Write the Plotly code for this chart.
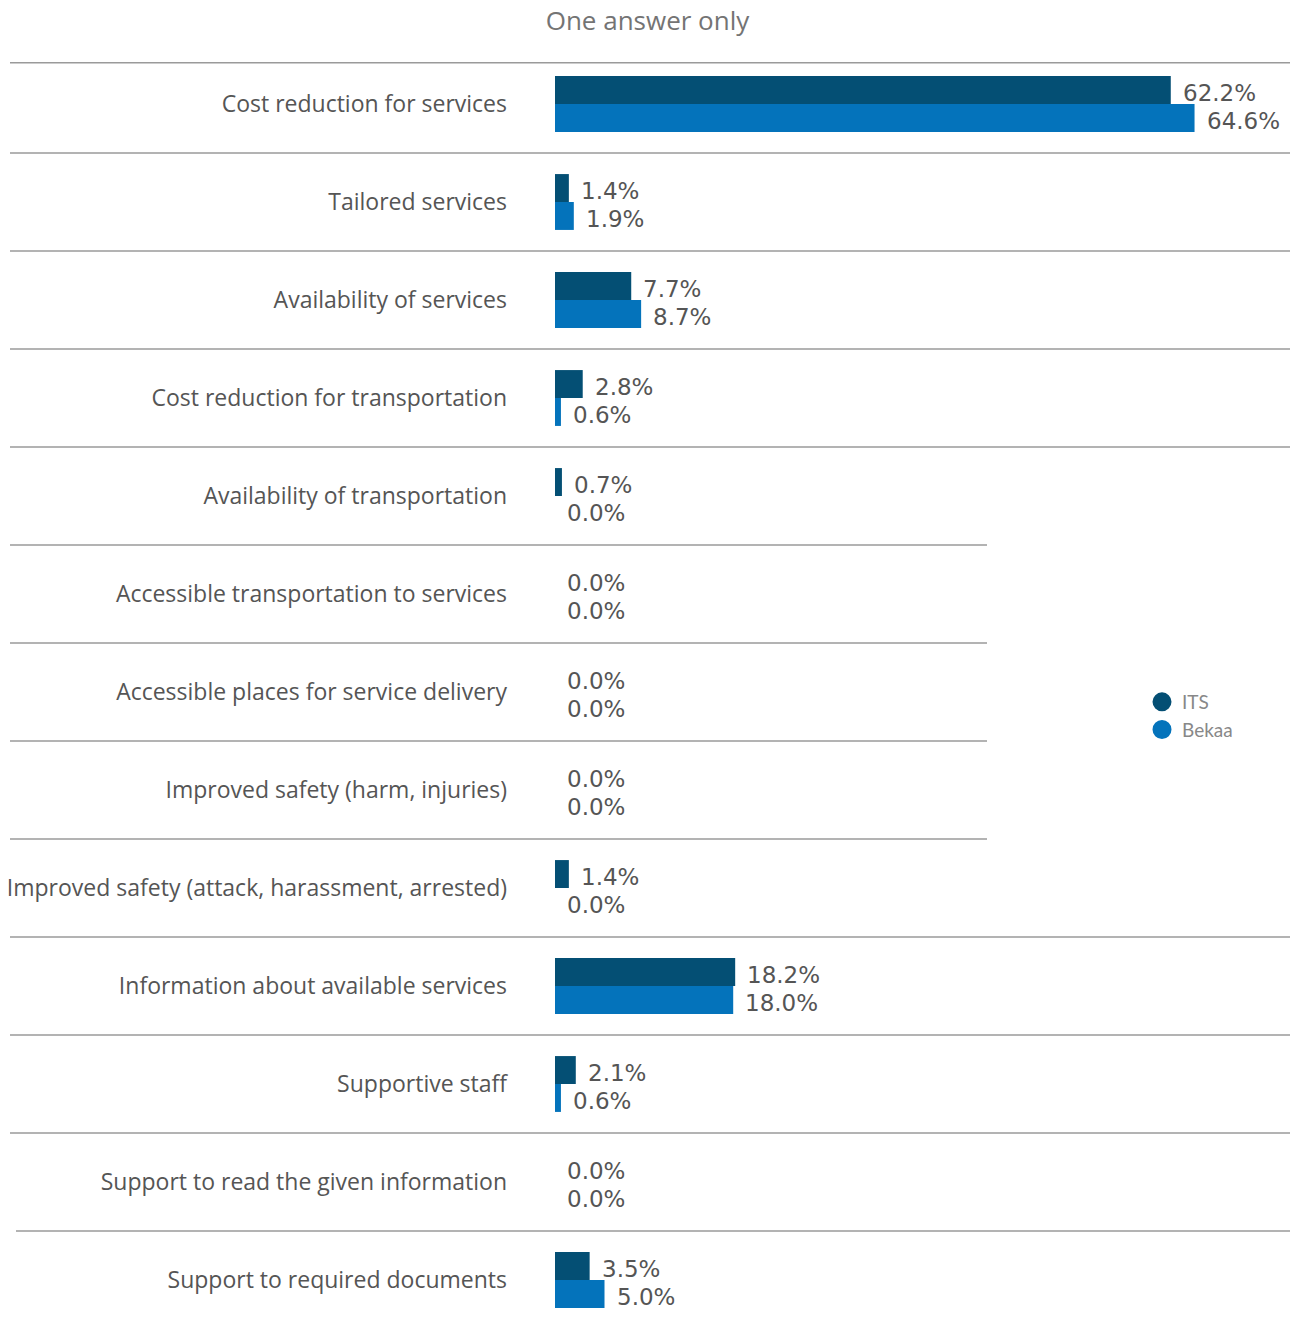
import plotly.graph_objects as go

categories = [
    "Cost reduction for services",
    "Tailored services",
    "Availability of services",
    "Cost reduction for transportation",
    "Availability of transportation",
    "Accessible transportation to services",
    "Accessible places for service delivery",
    "Improved safety (harm, injuries)",
    "Improved safety (attack, harassment, arrested)",
    "Information about available services",
    "Supportive staff",
    "Support to read the given information",
    "Support to required documents",
]
its_values = [62.2, 1.4, 7.7, 2.8, 0.7, 0.0, 0.0, 0.0, 1.4, 18.2, 2.1, 0.0, 3.5]
bekaa_values = [64.6, 1.9, 8.7, 0.6, 0.0, 0.0, 0.0, 0.0, 0.0, 18.0, 0.6, 0.0, 5.0]
series_names = ["ITS", "Bekaa"]
title_text = "One answer only"

# ---- styling ----
COL_ITS = "#044f74"
COL_BEKAA = "#0473bb"
TXT = "#555555"
LINE = "#9a9a9a"
FONT = "Open Sans"
VFONT = "DejaVu Sans"
W, H = 1295, 1318
ML, MR, MT, MB = 555, 5, 55, 0
PX_PER_PCT = 9.9
ROW_PX = 98.0
xmax = (W - ML - MR) / PX_PER_PCT

fig = go.Figure()
for name, vals, col in [(series_names[0], its_values, COL_ITS),
                        (series_names[1], bekaa_values, COL_BEKAA)]:
    fig.add_trace(go.Bar(
        y=categories, x=vals, name=name, orientation="h",
        marker=dict(color=col, line=dict(width=0)),
        showlegend=False, hoverinfo="x+name",
    ))
    # legend entry with circle marker
    fig.add_trace(go.Scatter(
        x=[None], y=[None], mode="markers", name=name,
        marker=dict(color=col, size=20, symbol="circle",
                    line=dict(color=col, width=3)),
        showlegend=True,
    ))

# value labels
for i, cat in enumerate(categories):
    for vals, shift in [(its_values, 11), (bekaa_values, -17)]:
        fig.add_annotation(
            x=vals[i], y=cat, xref="x", yref="y",
            text=f"{vals[i]:.1f}%", showarrow=False,
            xanchor="left", yanchor="middle", xshift=10, yshift=shift,
            font=dict(family=VFONT, size=23, color=TXT),
        )

# separator lines
plot_w = W - ML - MR
def px_to_paper(px):
    return (px - ML) / plot_w

separators = [(-0.42, 10, 1290)]
for b in range(len(categories) - 1):
    y = b + 0.5
    if 4 <= b <= 7:
        separators.append((y, 10, 987))
    elif b == 11:
        separators.append((y, 16, 1290))
    else:
        separators.append((y, 10, 1290))
for y, x0, x1 in separators:
    fig.add_shape(type="line", xref="paper", yref="y",
                  x0=px_to_paper(x0), x1=px_to_paper(x1), y0=y, y1=y,
                  line=dict(color=LINE, width=1.5), layer="below")

n = len(categories)
fig.update_layout(
    width=W, height=H,
    margin=dict(l=ML, r=MR, t=MT, b=MB, pad=0),
    paper_bgcolor="white", plot_bgcolor="white",
    barmode="group", bargap=0.43, bargroupgap=0,
    title=dict(text=title_text, x=0.5, xref="container", xanchor="center",
               y=1 - 21 / H, yref="container", yanchor="middle",
               font=dict(family=FONT, size=26, color="#747474")),
    font=dict(family=FONT, color=TXT),
    showlegend=True,
    legend=dict(x=px_to_paper(1142), y=1 - (683 - MT) / (H - MT - MB),
                xanchor="left", yanchor="top",
                font=dict(family="Lato", size=19, color="#888888"),
                tracegroupgap=0,
                bgcolor="rgba(0,0,0,0)"),
    xaxis=dict(range=[0, xmax], visible=False, fixedrange=True),
    yaxis=dict(categoryorder="array", categoryarray=categories,
               range=[(H - MT - MB) / ROW_PX - 0.5, -0.5],
               showgrid=False, zeroline=False, showline=False, ticks="",
               ticklabelstandoff=47, fixedrange=True,
               tickfont=dict(family=FONT, size=23, color=TXT)),
)

fig.write_html("out.html", config={"displayModeBar": False},
               post_script="document.body.style.margin='0';document.body.style.overflow='hidden';")
